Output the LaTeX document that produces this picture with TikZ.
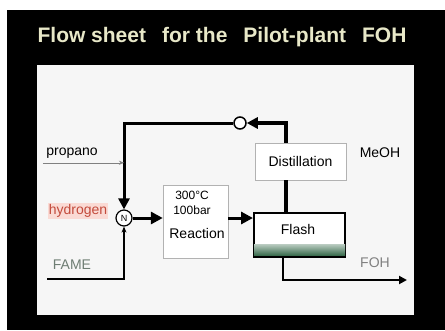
\documentclass[tikz,border=0pt]{standalone}
\usepackage{fontspec}
\setmainfont{Liberation Sans}
\usetikzlibrary{arrows.meta}
\definecolor{titlecol}{RGB}{232,232,200}
\definecolor{panelcol}{RGB}{246,246,246}
\definecolor{flashgreen}{RGB}{60,110,80}
\definecolor{hydrored}{RGB}{195,75,60}
\definecolor{hydropink}{RGB}{250,218,212}
\definecolor{famecol}{RGB}{110,125,115}
\begin{document}
\begin{tikzpicture}[x=1pt,y=-1pt,>=Stealth,font=\fontsize{14}{16}\selectfont]
\useasboundingbox (0,0) rectangle (445,330);
\fill[white] (0,0) rectangle (445,330);
\fill[black] (7,10) rectangle (445,330);
\fill[panelcol] (37,65) rectangle (414,315);
\node[text=titlecol, font=\fontsize{21}{23}\selectfont\bfseries] (title) at (222,37) {Flow sheet\hspace{16pt}for the\hspace{16pt}Pilot-plant\hspace{16pt}FOH};
% units
\node[draw=gray!60, fill=white, minimum width=65, minimum height=73] (reaction) at (195.5,221.5) {};
\node[align=center, font=\fontsize{12}{15}\selectfont] (cond) at (192,203) {300°C\\100bar};
\node (reacttxt) at (197,233) {Reaction};
\node[draw=gray!60, fill=white, minimum width=91, minimum height=37] (distil) at (300.5,161.5) {Distillation};
\node[draw, line width=2pt, fill=white, minimum width=91, minimum height=44] (flash) at (299.5,235) {};
\shade[top color=flashgreen!35, bottom color=flashgreen] ([xshift=1pt,yshift=3pt]flash.south west) rectangle ([xshift=-1pt,yshift=14pt]flash.south east);
\node (flashtxt) at (298,229) {Flash};
\node[draw, circle, line width=1.2pt, fill=white, minimum size=16, inner sep=0pt, font=\small] (mixer) at (124,218) {N};
\node[draw, circle, line width=1.5pt, fill=white, minimum size=12, inner sep=0pt] (valve) at (240,123) {};
% streams
\node (propane) at (72,153) {propano};
\node[text=hydrored, fill=hydropink, inner sep=1pt] (hydrogen) at (78,211) {hydrogen};
\node[text=famecol] (fame) at (72,265) {FAME};
\node (meoh) at (380,153) {MeOH};
\node[text=gray] (foh) at (375,263) {FOH};
\coordinate (famestart) at (47,279);
\coordinate (fohend) at (407,280);
\draw[line width=3.5pt, -{Triangle[length=11pt,width=11pt]}] ([xshift=-14.5pt]distil.north) |- (valve.east);
\draw[line width=3pt, -{Triangle[length=11pt,width=11pt]}] (valve.west) -| (mixer.north);
\draw[gray, -{Stealth[length=5pt,width=4pt]}] ([yshift=-1pt]propane.south west) -- ([yshift=-1pt]propane.south west -| mixer.north);
\draw[line width=2pt, -{Stealth[length=6pt,width=5pt]}] (famestart) -| (mixer.south);
\draw[line width=3pt, -{Triangle[length=12pt,width=12pt]}] (mixer.east) -- (mixer.east -| reaction.west);
\draw[line width=3pt, -{Triangle[length=12pt,width=12pt]}] (mixer.east -| reaction.east) -- (mixer.east -| flash.west);
\draw[line width=4pt] ([xshift=-14.5pt]distil.south) -- ([xshift=-13.5pt]flash.north);
\draw[line width=2pt, -{Triangle[length=8pt,width=8pt]}] ([xshift=-16.5pt]flash.south) |- (fohend);
\end{tikzpicture}
\end{document}
